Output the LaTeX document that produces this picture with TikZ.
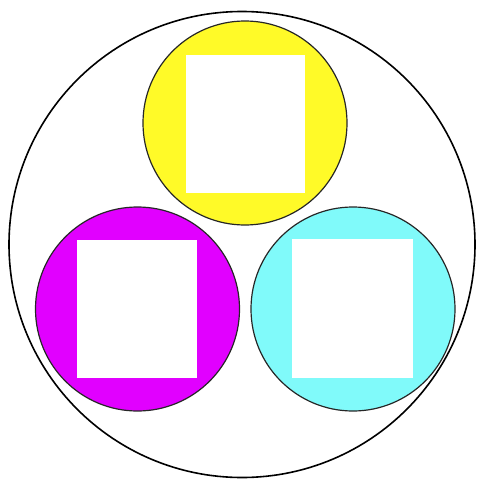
\documentclass[tikz,border=0pt]{standalone}
\definecolor{cyel}{RGB}{255,250,40}
\definecolor{cmag}{RGB}{225,0,255}
\definecolor{ccya}{RGB}{128,250,250}
\tikzset{
  outer/.style={circle, draw=black, line width=1.6pt, minimum size=466pt, inner sep=0pt},
  disc/.style={circle, draw=black!85, line width=1.2pt, minimum size=204pt, inner sep=0pt},
  hole/.style={rectangle, fill=white, draw=none, inner sep=0pt},
}
\begin{document}
\begin{tikzpicture}[x=1pt,y=-1pt]
\useasboundingbox (0,0) rectangle (477,479);
\node[outer] (big) at (242,244.5) {};
\node[disc, fill=cyel] (yel) at (245,123) {};
\node[disc, fill=cmag] (mag) at (137.5,309) {};
\node[disc, fill=ccya] (cya) at (353,309) {};
\node[hole, minimum width=119pt, minimum height=138pt] (hy) at (245.5,124) {};
\node[hole, minimum width=120pt, minimum height=138pt] (hm) at (137,309) {};
\node[hole, minimum width=121pt, minimum height=139pt] (hc) at (352.5,308.5) {};
\end{tikzpicture}
\end{document}
